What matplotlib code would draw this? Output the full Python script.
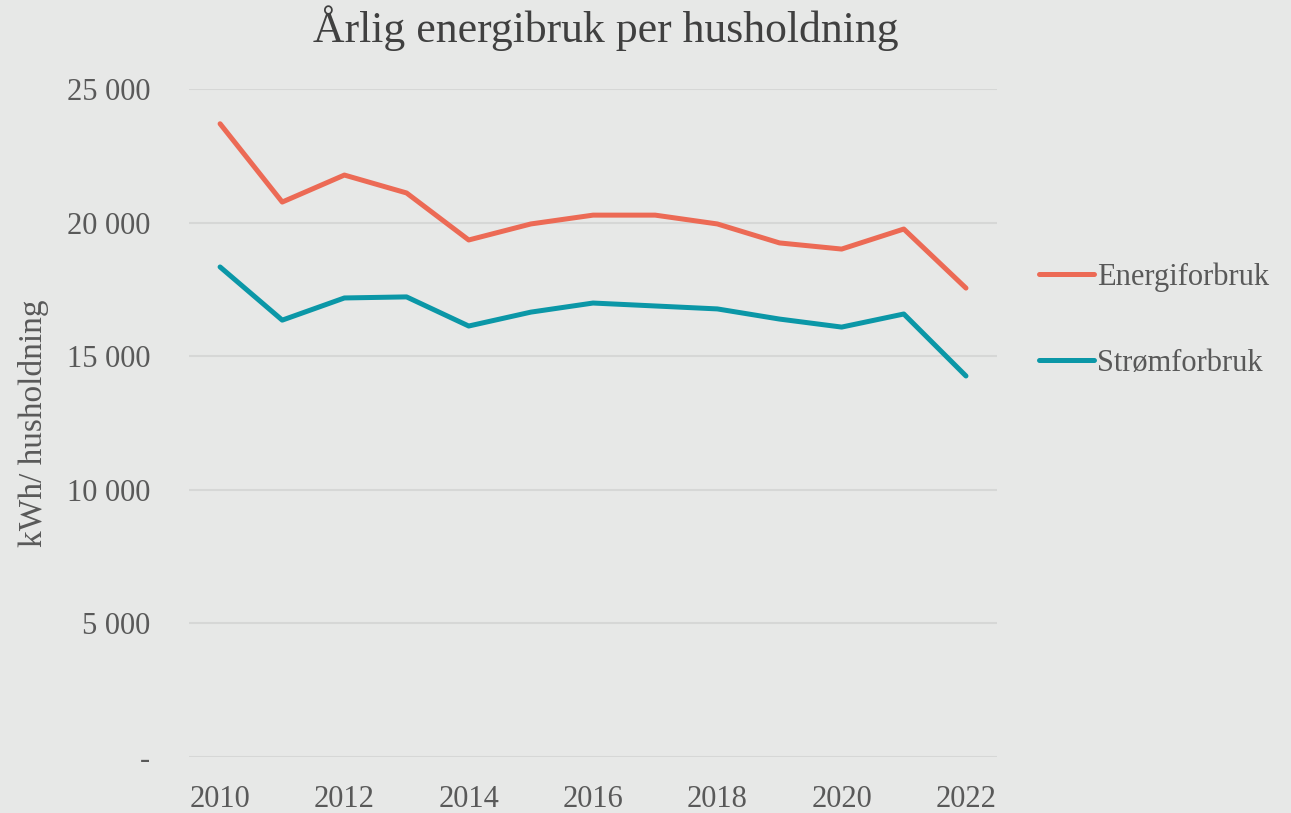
import matplotlib.pyplot as plt
from matplotlib.ticker import FuncFormatter

years = list(range(2010, 2023))
energi = [23700, 20770, 21780, 21110, 19350, 19950, 20280, 20280, 19950, 19240, 19010, 19760, 17550]
strom = [18340, 16350, 17180, 17220, 16130, 16650, 16990, 16880, 16770, 16390, 16090, 16580, 14260]

bg = '#e7e8e7'
txt = '#595959'
plt.rcParams['font.family'] = ['Liberation Serif', 'DejaVu Serif']

fig = plt.figure(figsize=(12.91, 8.13), dpi=100, facecolor=bg)
ax = fig.add_axes([0.1464, 0.0689, 0.6259, 0.8216], facecolor=bg)

ax.plot(years, energi, color='#ec6a55', lw=3.6, label='Energiforbruk', solid_capstyle='round')
ax.plot(years, strom, color='#0b97a7', lw=3.6, label='Strømforbruk', solid_capstyle='round')

ax.set_xlim(2009.5, 2022.5)
ax.set_ylim(0, 25000)
ax.set_yticks(range(0, 25001, 5000))
ax.set_xticks(range(2010, 2023, 2))


def fmt(v, pos):
    if v == 0:
        return '-'
    return f'{int(v):,}'.replace(',', ' ')


ax.yaxis.set_major_formatter(FuncFormatter(fmt))
ax.grid(axis='y', color='#d6d7d6', lw=1.5)
ax.set_axisbelow(True)
for s in ax.spines.values():
    s.set_visible(False)
ax.tick_params(length=0, labelsize=22, colors=txt)
ax.tick_params(axis='y', pad=28)
ax.tick_params(axis='x', pad=20)

ax.set_ylabel('kWh/ husholdning', fontsize=24, color=txt, labelpad=13)
fig.text(0.469, 0.948, 'Årlig energibruk per husholdning', fontsize=31.5,
         color='#404040', ha='center', va='baseline')

leg = ax.legend(loc='center left', bbox_to_anchor=(1.018, 0.654), frameon=False,
                fontsize=22, labelcolor=txt, handlelength=1.8, handletextpad=0.1,
                labelspacing=1.85)

fig.savefig('out.png', dpi=100, facecolor=bg)
